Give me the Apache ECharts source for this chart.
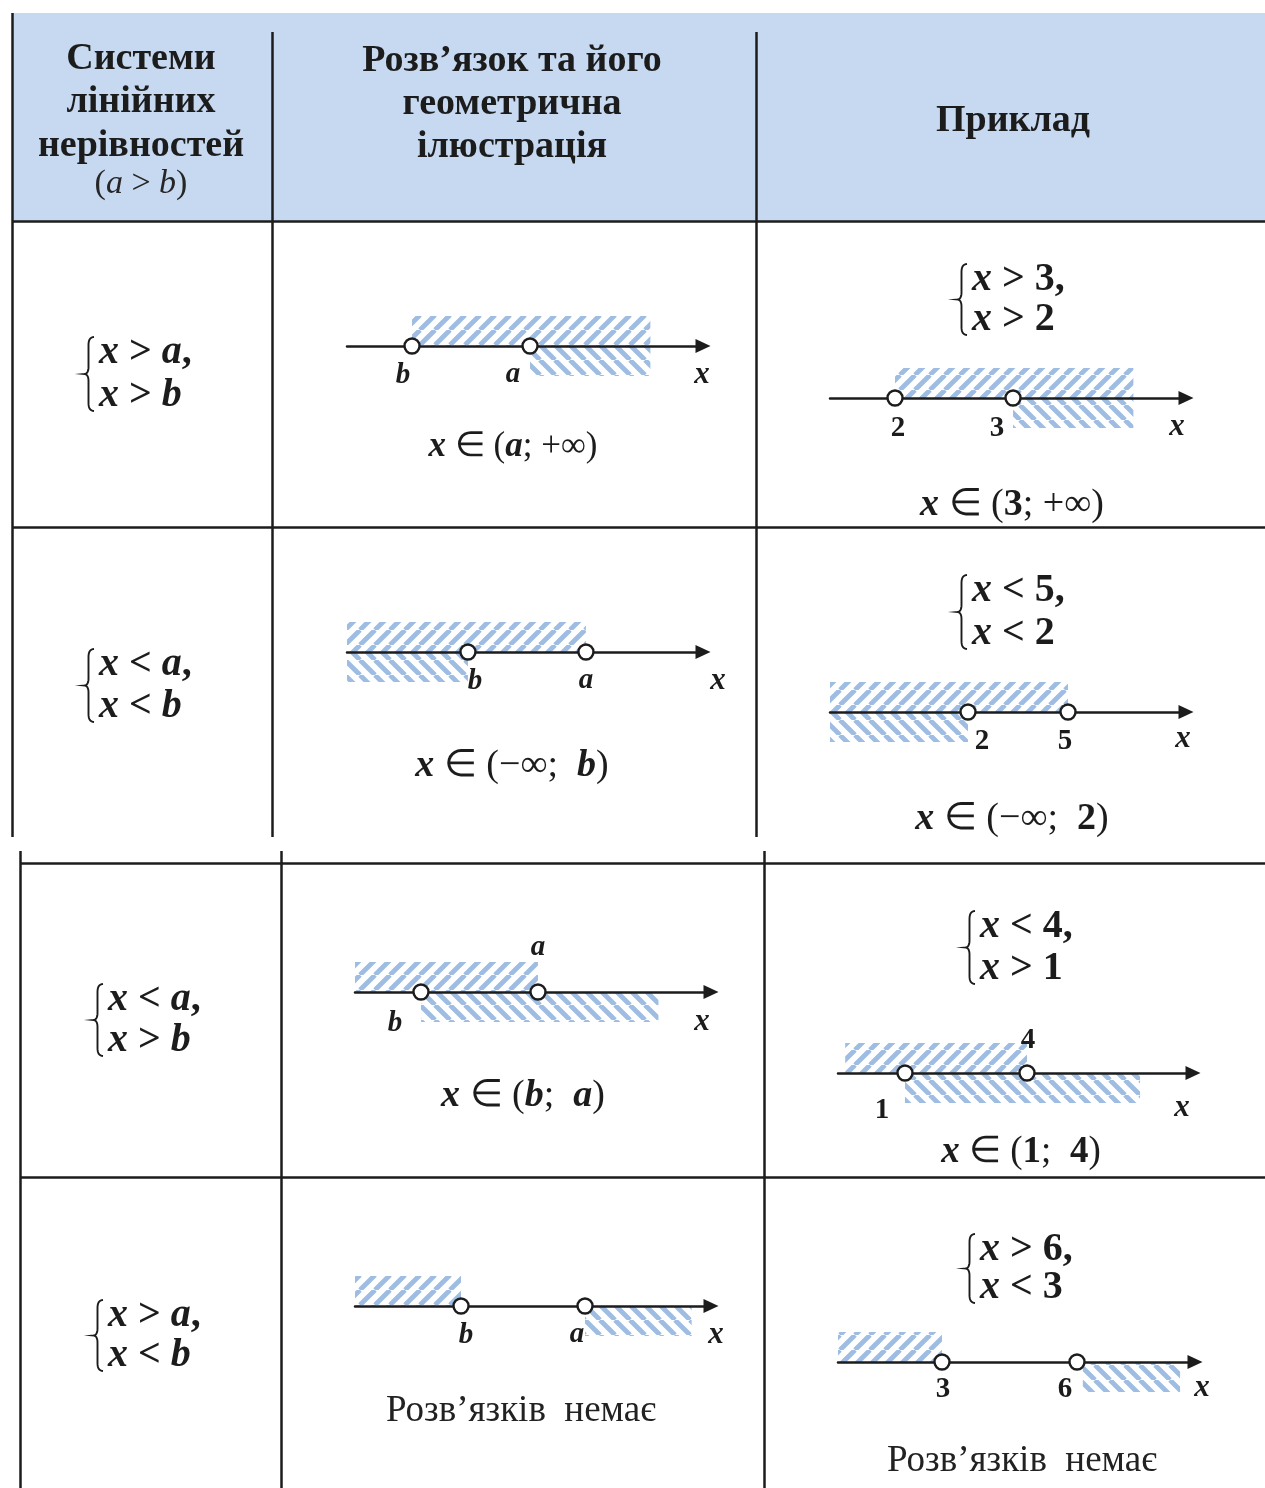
<!DOCTYPE html>
<html><head><meta charset="utf-8">
<script src="https://cdn.jsdelivr.net/npm/echarts@6/dist/echarts.min.js"></script>
<style>html,body{margin:0;padding:0;background:#fff}#c{width:1265px;height:1488px}</style>
</head><body><div id="c"></div>
<script>
// ---------------- data ----------------
const headerCol1 = ['Системи', 'лінійних', 'нерівностей'];
const headerCondition = '(a > b)';
const headerCol2 = ['Розв’язок та його', 'геометрична', 'ілюстрація'];
const headerCol3 = ['Приклад'];

const generalSystems = [['x > a,', 'x > b'], ['x < a,', 'x < b'], ['x < a,', 'x > b'], ['x > a,', 'x < b']];
const generalSolutions = ['x ∈ (a; +∞)', 'x ∈ (−∞;  b)', 'x ∈ (b;  a)', 'Розв’язків  немає'];
const exampleSystems = [['x > 3,', 'x > 2'], ['x < 5,', 'x < 2'], ['x < 4,', 'x > 1'], ['x > 6,', 'x < 3']];
const exampleSolutions = ['x ∈ (3; +∞)', 'x ∈ (−∞;  2)', 'x ∈ (1;  4)', 'Розв’язків  немає'];

// points on the number lines (general: schematic b = 1, a = 2)
const generalPointValues = [[1, 2], [1, 2], [1, 2], [1, 2]];
const generalPointNames = [['b', 'a'], ['b', 'a'], ['b', 'a'], ['b', 'a']];
const examplePointValues = [[2, 3], [2, 5], [1, 4], [3, 6]];
const examplePointNames = [['2', '3'], ['2', '5'], ['1', '4'], ['3', '6']];

// hatched ranges: [from, to, side]  side 1 = above the line, -1 = below
const generalShades = [
  [[1, 3.02, 1], [2, 3.02, -1]],
  [[-0.025, 2, 1], [-0.025, 1, -1]],
  [[0.436, 2, 1], [1, 3.03, -1]],
  [[0.145, 1, 1], [2, 2.86, -1]]
];
const exampleShades = [
  [[2, 4.02, 1], [3, 4.02, -1]],
  [[-2.14, 5, 1], [-2.14, 2, -1]],
  [[-0.47, 4, 1], [1, 6.78, -1]],
  [[0.689, 3, 1], [6.13, 8.29, -1]]
];
const axisVariable = 'x';

// ---------------- layout / style ----------------
const FONT = "'Liberation Serif','Times New Roman',serif";
const INK = '#1c1c1c';
const HATCH = '#9fbde2';
const HEADER_BG = '#c6d9f0';

const lineLayout = [
  {left: 347, end: 703, y: 346, min: 0.449, max: 3.466, lab: [[-9, 30], [-17, 29]], nm: [-1, 29]},
  {left: 347, end: 703, y: 652, min: -0.025, max: 2.992, lab: [[7, 30], [0, 29]], nm: [15, 29]},
  {left: 355, end: 711, y: 992, min: 0.436, max: 3.479, lab: [[-26, 32], [0, -44]], nm: [-9, 30]},
  {left: 355, end: 711, y: 1306, min: 0.145, max: 3.016, lab: [[5, 30], [-8, 29]], nm: [5, 29]},
  {left: 830, end: 1186, y: 398, min: 1.449, max: 4.466, lab: [[3, 31], [-16, 31]], nm: [-9, 29]},
  {left: 830, end: 1186, y: 712, min: -2.14, max: 8.54, lab: [[14, 30], [-3, 30]], nm: [-3, 27]},
  {left: 838, end: 1193, y: 1073, min: -0.647, max: 8.082, lab: [[-23, 38], [1, -32]], nm: [-11, 35]},
  {left: 838, end: 1195, y: 1362, min: 0.689, max: 8.622, lab: [[1, 28], [-12, 28]], nm: [7, 26]}
];

function makePattern(dir) {
  const P = 15, c = document.createElement('canvas');
  c.width = P; c.height = P;
  const g = c.getContext('2d');
  g.strokeStyle = HATCH; g.lineWidth = 4.8;
  g.beginPath();
  for (let k = -1; k <= 1; k++) {
    if (dir > 0) { g.moveTo(k * P, P); g.lineTo(k * P + P, 0); }
    else { g.moveTo(k * P, 0); g.lineTo(k * P + P, P); }
  }
  g.stroke();
  return {image: c, repeat: 'repeat'};
}
const patUp = makePattern(1), patDown = makePattern(-1);

function hatchRender(params, api) {
  const from = api.value(0), to = api.value(1), side = api.value(2);
  const p0 = api.coord([from, 0]);
  const p1 = api.coord([to, side]);
  return {
    type: 'rect',
    shape: {x: Math.min(p0[0], p1[0]), y: Math.min(p0[1], p1[1]), width: Math.abs(p1[0] - p0[0]), height: Math.abs(p1[1] - p0[1])},
    style: {fill: side > 0 ? patUp : patDown}
  };
}

const allValues = generalPointValues.concat(examplePointValues);
const allNames = generalPointNames.concat(examplePointNames);
const allShades = generalShades.concat(exampleShades);

const grids = [], xAxes = [], yAxes = [], series = [];
lineLayout.forEach((L, i) => {
  const italic = i < 4;
  grids.push({left: L.left, top: L.y - 30, width: L.end - L.left, height: 60, containLabel: false, outerBoundsMode: 'none'});
  xAxes.push({
    type: 'value', gridIndex: i, min: L.min, max: L.max, z: 3,
    axisLine: {show: true, onZero: true, symbol: ['none', 'triangle'], symbolSize: [14, 15], lineStyle: {color: INK, width: 2.5}},
    axisTick: {show: false}, axisLabel: {show: false}, splitLine: {show: false}
  });
  yAxes.push({type: 'value', gridIndex: i, min: -1, max: 1, show: false});
  series.push({
    type: 'custom', xAxisIndex: i, yAxisIndex: i, z: 1, silent: true, clip: false,
    data: allShades[i], renderItem: hatchRender
  });
  series.push({
    type: 'scatter', xAxisIndex: i, yAxisIndex: i, z: 4, silent: true,
    symbol: 'circle', symbolSize: 15,
    itemStyle: {color: '#ffffff', borderColor: INK, borderWidth: 2.4, opacity: 1},
    label: {show: true, position: 'inside', formatter: '{b}', fontFamily: FONT, fontSize: 29,
      fontWeight: 'bold', fontStyle: italic ? 'italic' : 'normal', color: INK, align: 'center', verticalAlign: 'middle'},
    data: allValues[i].map((v, k) => ({name: allNames[i][k], value: [v, 0], label: {offset: L.lab[k]}}))
  });
});

// ---------------- table graphics ----------------
const els = [];
els.push({type: 'rect', shape: {x: 12, y: 13, width: 1253, height: 208}, style: {fill: HEADER_BG}, z: -1});
function L_(x1, y1, x2, y2) { els.push({type: 'line', shape: {x1, y1, x2, y2}, style: {stroke: INK, lineWidth: 2.5}}); }
// upper part of the table
L_(12.5, 13, 12.5, 837); L_(272.5, 32, 272.5, 837); L_(756.5, 32, 756.5, 837);
L_(12, 221.5, 1265, 221.5); L_(12, 527.5, 1265, 527.5);
// lower part
L_(20.5, 851, 20.5, 1488); L_(281.5, 851, 281.5, 1488); L_(764.5, 851, 764.5, 1488);
L_(20, 863.5, 1265, 863.5); L_(20, 1177.5, 1265, 1177.5);

function T(x, y, text, o) {
  els.push({type: 'text', x: x, y: y, z: 5, style: Object.assign({text: text, fill: INK, align: 'center', verticalAlign: 'middle', fontFamily: FONT}, o)});
}
function mathRich(s) {
  let out = '', buf = '';
  const flush = () => { if (buf) { out += '{o|' + buf + '}'; buf = ''; } };
  for (const ch of s) {
    if (/[a-z]/.test(ch)) { flush(); out += '{i|' + ch + '}'; }
    else if (/[0-9]/.test(ch)) { flush(); out += '{d|' + ch + '}'; }
    else buf += ch;
  }
  flush();
  return out;
}
function richSet(size, otherWeight, color) {
  return {
    i: {fontFamily: FONT, fontStyle: 'italic', fontWeight: 'bold', fontSize: size, fill: color || INK},
    d: {fontFamily: FONT, fontWeight: 'bold', fontSize: size, fill: color || INK},
    o: {fontFamily: FONT, fontWeight: otherWeight, fontSize: size, fill: color || INK}
  };
}
function quad(p0, p1, p2, n) {
  const pts = [];
  for (let k = 0; k <= n; k++) {
    const t = k / n;
    pts.push([(1 - t) * (1 - t) * p0[0] + 2 * (1 - t) * t * p1[0] + t * t * p2[0],
              (1 - t) * (1 - t) * p0[1] + 2 * (1 - t) * t * p1[1] + t * t * p2[1]]);
  }
  return pts;
}
function brace(x, top, bot) {
  const w = 10, m = (top + bot) / 2, xm = x + w * 0.45;
  let pts = [];
  pts = pts.concat(quad([x + w, top], [xm, top], [xm, top + 8], 8));
  pts = pts.concat(quad([xm, m - 7], [xm, m], [x, m], 8));
  pts = pts.concat(quad([x, m], [xm, m], [xm, m + 7], 8));
  pts = pts.concat(quad([xm, bot - 8], [xm, bot], [x + w, bot], 8));
  els.push({type: 'polyline', shape: {points: pts}, style: {stroke: INK, lineWidth: 1.9, fill: null}, z: 5});
}

// header
headerCol1.forEach((s, k) => T(141, 59 + 43.5 * k, s, {fontSize: 38, fontWeight: 'bold'}));
T(141, 184, '{o|(}{n|a}{o| > }{n|b}{o|)}', {fontSize: 34, rich: {
  o: {fontFamily: FONT, fontSize: 34, fill: '#262626'},
  n: {fontFamily: FONT, fontSize: 34, fontStyle: 'italic', fill: '#262626'}}});
headerCol2.forEach((s, k) => T(512, 61 + 43 * k, s, {fontSize: 38, fontWeight: 'bold'}));
headerCol3.forEach((s) => T(1013, 121, s, {fontSize: 38, fontWeight: 'bold'}));

// systems
const SYS = 40;
const genSysPos = [
  {bx: 84, tx: 99, y: [353, 396]}, {bx: 84, tx: 99, y: [665, 707]},
  {bx: 93, tx: 108, y: [1000, 1041]}, {bx: 93, tx: 108, y: [1316, 1356]}
];
const exSysPos = [
  {bx: 957, tx: 972, y: [280, 320]}, {bx: 957, tx: 972, y: [591, 634]},
  {bx: 965, tx: 980, y: [927, 969]}, {bx: 965, tx: 980, y: [1250, 1288]}
];
function drawSystem(lines, P) {
  brace(P.bx, P.y[0] - 16, P.y[1] + 15);
  lines.forEach((s, k) => T(P.tx, P.y[k], mathRich(s), {align: 'left', fontSize: SYS, rich: richSet(SYS, 'bold')}));
}
generalSystems.forEach((sys, r) => drawSystem(sys, genSysPos[r]));
exampleSystems.forEach((sys, r) => drawSystem(sys, exSysPos[r]));

// solutions
const genSolPos = [[513, 447, 35], [512, 766, 38], [523, 1096, 38], [521, 1411, 37]];
const exSolPos = [[1012, 505, 38], [1012, 819, 38], [1021, 1152, 37], [1022, 1461, 37]];
function drawSolution(s, p) {
  if (/[А-Яа-яіє]/.test(s)) T(p[0], p[1], s, {fontSize: p[2], fill: '#222'});
  else T(p[0], p[1], mathRich(s), {fontSize: p[2], rich: richSet(p[2], 'normal')});
}
generalSolutions.forEach((s, r) => drawSolution(s, genSolPos[r]));
exampleSolutions.forEach((s, r) => drawSolution(s, exSolPos[r]));

const chart = echarts.init(document.getElementById('c'), null, {renderer: 'canvas'});
chart.setOption({
  animation: false,
  backgroundColor: '#ffffff',
  grid: grids, xAxis: xAxes, yAxis: yAxes, series: series
});
// axis variable name, placed from the axis scale (end of each axis)
lineLayout.forEach((L, i) => {
  const p = chart.convertToPixel({xAxisIndex: i, yAxisIndex: i}, [L.max, 0]);
  T(p[0] + L.nm[0], p[1] + L.nm[1], axisVariable, {fontSize: 31, fontWeight: 'bold', fontStyle: 'italic'});
});
chart.setOption({graphic: {elements: els}});
</script></body></html>
